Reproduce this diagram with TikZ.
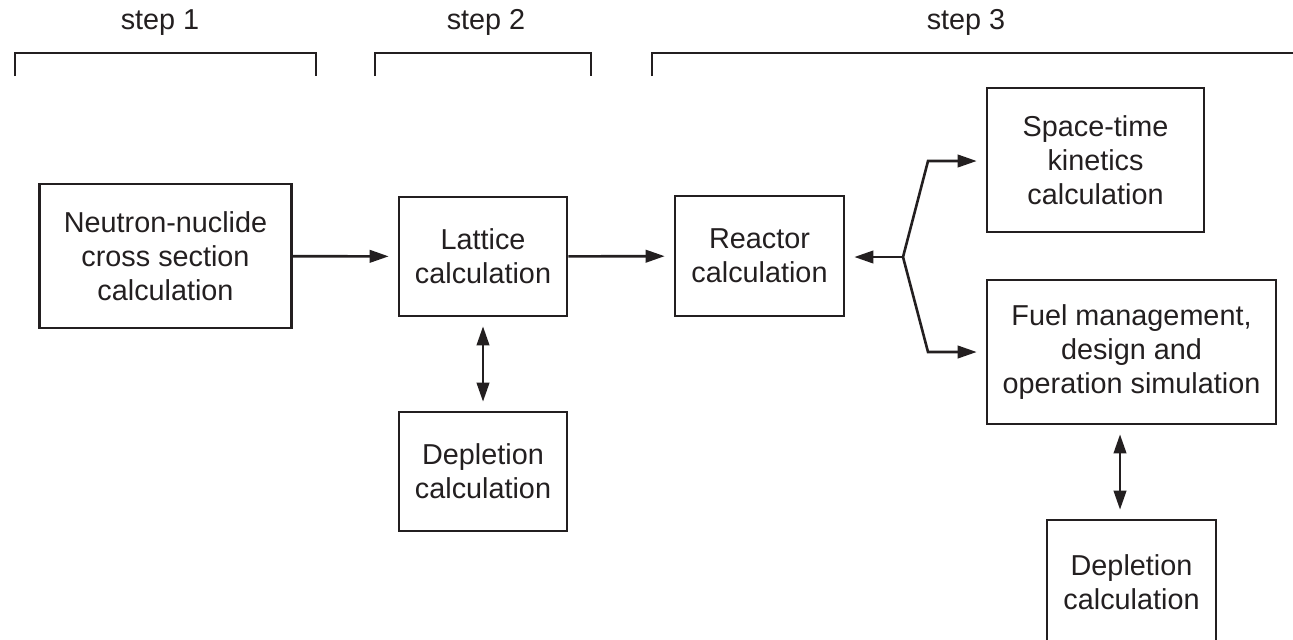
\documentclass[tikz,border=0pt]{standalone}
\usepackage{fontspec}
\setmainfont{Liberation Sans}
\usetikzlibrary{arrows.meta}
\definecolor{ink}{RGB}{35,31,32}

\begin{document}
\begin{tikzpicture}[x=0.5pt, y=-0.5pt, line width=1.3pt, color=ink,
    calcbox/.style={draw, align=center, inner sep=0pt, font=\fontsize{14.4pt}{17pt}\selectfont},
    steplabel/.style={anchor=base, inner sep=0pt, font=\fontsize{14.4pt}{17pt}\selectfont},
    flow/.style={-{Triangle[length=9.5pt, width=6.2pt]}, shorten >=4.5pt},
    twoway/.style={{Triangle[length=9.5pt, width=6.2pt]}-{Triangle[length=9.5pt, width=6.2pt]}, shorten >=4.5pt, shorten <=4.5pt}]
        \useasboundingbox (0,0) rectangle (1293,639);

        % Step brackets with labels
        \foreach \a/\b/\c/\i in {15/316/160/1, 375/591/486/2, 652/1310/966/3} {
            \draw (\a,76) -- (\a,53) -- (\b,53) -- (\b,76);
            \node[steplabel] (step\i) at (\c,29) {step \i};
        }

        % Calculation boxes
        \node[calcbox, minimum width=126pt, minimum height=72pt] (neutron) at (165.5,256) {Neutron-nuclide\\cross section\\calculation};
        \node[calcbox, minimum width=84pt, minimum height=59.5pt] (lattice) at (483,256.5) {Lattice\\calculation};
        \node[calcbox, minimum width=84pt, minimum height=59.5pt] (depletionA) at (483,471.5) {Depletion\\calculation};
        \node[calcbox, minimum width=84.5pt, minimum height=60pt] (reactor) at (759.5,256) {Reactor\\calculation};
        \node[calcbox, minimum width=108.5pt, minimum height=72pt] (kinetics) at (1095.5,160) {Space-time\\kinetics\\calculation};
        \node[calcbox, minimum width=144.5pt, minimum height=72pt] (fuel) at (1131.5,352) {Fuel management,\\design and\\operation simulation};
        \node[calcbox, minimum width=84.5pt, minimum height=62.5pt] (depletionB) at (1131.5,582.5) {Depletion\\calculation};

        % Connectors
        \draw[flow] (neutron) -- (lattice);
        \draw[flow] (lattice) -- (reactor);
        \draw[twoway] (lattice) -- (depletionA);

        % Branch to the right
        \coordinate (split) at (903,257);
        \coordinate (up) at (928,161);
        \coordinate (down) at (928,352);
        \draw[flow] (split) -- (split -| reactor.east);
        \draw[flow] (split) -- (up) -- (up -| kinetics.west);
        \draw[flow] (split) -- (down) -- (down -| fuel.west);
        \draw[twoway] ([xshift=-5.75pt]fuel.south) -- ([xshift=-5.75pt]depletionB.north);
    \end{tikzpicture}
\end{document}
